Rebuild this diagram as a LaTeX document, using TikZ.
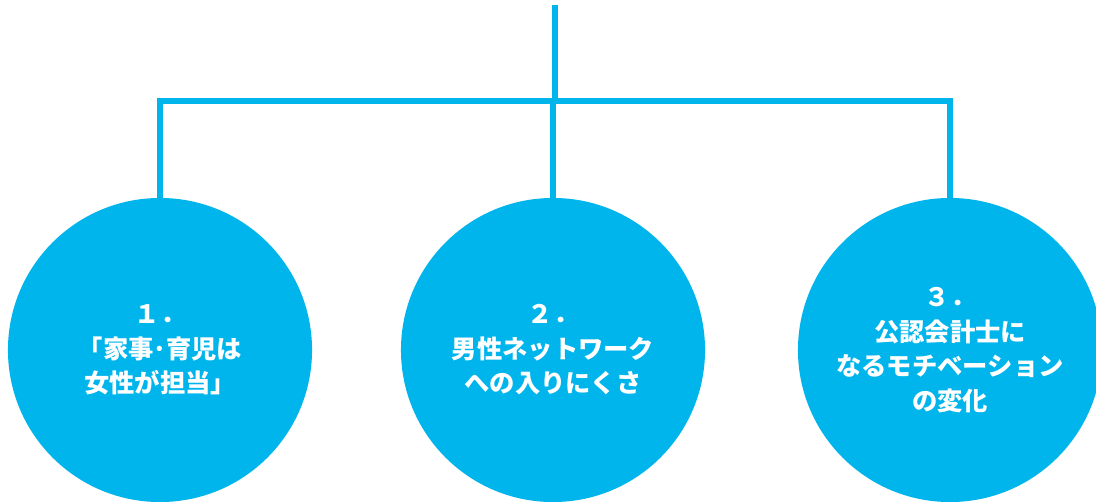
\documentclass[tikz,border=0pt]{standalone}
\usepackage{fontspec}
\newfontfamily\jpfont{Noto Sans CJK JP}
\usepackage{tikz}
\definecolor{topicblue}{RGB}{0,180,236}
\tikzset{
  topic/.style={circle, fill=topicblue, minimum size=7.6cm, inner sep=0pt,
    text=white, align=center,
    font=\jpfont\bfseries\fontsize{18}{24.5}\selectfont},
  branch/.style={draw=topicblue, line width=4.6pt}
}
\begin{document}
\begin{tikzpicture}[x=0.025cm, y=-0.025cm]
\useasboundingbox (0,0) rectangle (1096,501);
\clip (0,0) rectangle (1096,501);

% topics
\node[topic] (c1) at (160,350) {１．\\「家事･育児は\\女性が担当」};
\node[topic] (c2) at (553,350) {２．\\男性ネットワーク\\への入りにくさ};
\node[topic] (c3) at (950,350) {３．\\公認会計士に\\なるモチベーション\\の変化};

% tree
\coordinate (top) at (555,5);
\coordinate (bar) at (555,101);
\draw[branch] (top) -- (bar);
\draw[branch] (c1.north) |- (bar) -| (c3.north);
\draw[branch] (c2.north) -- (c2.north |- bar);
\end{tikzpicture}
\end{document}
